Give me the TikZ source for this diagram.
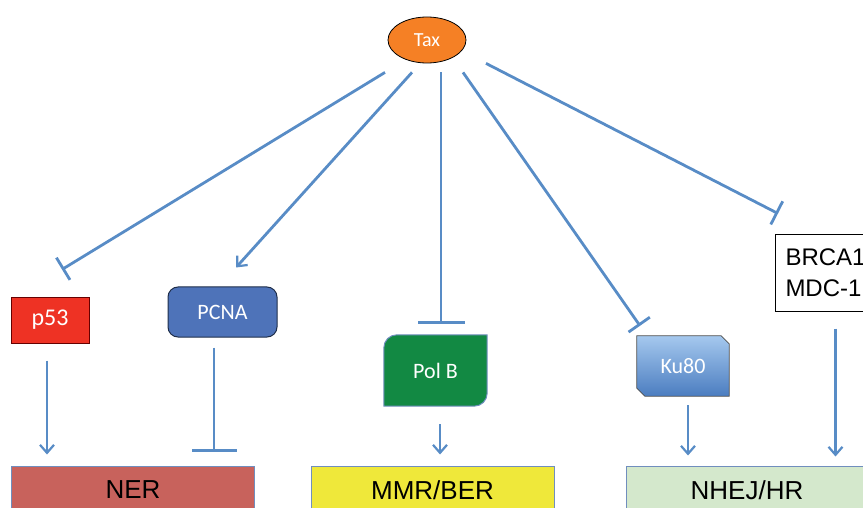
\documentclass[tikz,border=0pt]{standalone}
\usepackage{fontspec}
\setmainfont{Carlito}
\newfontfamily\arialfont{Liberation Sans}
\usepackage{tikz}
\usetikzlibrary{calc,arrows.meta,positioning,shapes.geometric,backgrounds}

\definecolor{linkblue}{RGB}{88,140,198}
\definecolor{taxorange}{RGB}{245,128,37}
\definecolor{pred}{RGB}{238,50,36}
\definecolor{pcnablue}{RGB}{78,115,185}
\definecolor{polgreen}{RGB}{18,137,67}
\definecolor{kulight}{RGB}{165,200,238}
\definecolor{kudark}{RGB}{75,125,192}
\definecolor{nerred}{RGB}{200,98,92}
\definecolor{mmryellow}{RGB}{239,232,58}
\definecolor{nhejgreen}{RGB}{212,232,204}
\definecolor{boxline}{RGB}{112,142,190}

\begin{document}
\begin{tikzpicture}[x=1pt,y=1pt,inner sep=0pt]
      % Styles
      \tikzset{link/.style={linkblue,line width=2.8pt},
               act/.style={link,-{Straight Barb[length=8pt,width=14pt,line width=2.2pt]}},
               inh/.style={link,-{Bar[width=#1,line width=2.8pt]}},
               inh/.default=26pt,
               protein/.style={minimum width=#1,text=white,font=\fontsize{22}{24}\selectfont},
               pathway/.style={draw=boxline,line width=1pt,minimum width=243pt,minimum height=48pt,
                               font=\arialfont\fontsize{26}{28}\selectfont}}

      \useasboundingbox (0,0) rectangle (863,507);
      \clip (0,0) rectangle (863,507);

      % top regulator
      \node[ellipse,draw=black,line width=0.8pt,fill=taxorange,minimum width=78pt,minimum height=46pt,
            text=white,font=\fontsize{20}{22}\selectfont] (tax) at (427,467) {Tax};

      % targets of Tax
      \node[protein=78pt,minimum height=46pt,fill=pred,draw=red!40!black,line width=1pt,
            font=\fontsize{24}{26}\selectfont] (p53) at (50,187) {p53};
      \node[protein=109pt,minimum height=50pt,fill=pcnablue,draw=pcnablue!40!black,line width=1pt,
            rounded corners=10pt] (pcna) at (222.5,195) {PCNA};
      \node[protein=103pt,minimum height=71pt] (polb) at (435.5,136.5) {Pol B};
      \node[protein=92pt,minimum height=60pt] (ku80) at (683,141) {Ku80};
      \node[draw=black,line width=1pt,fill=white,anchor=west,text width=86pt,inner xsep=10pt,
            minimum height=76pt,align=left,font=\arialfont\fontsize{24}{31}\selectfont]
            (brca) at (775,234) {BRCA1\\MDC-1};

      % odd shaped boxes behind their text
      \begin{scope}[on background layer]
        \def\rr{13}
        \draw[fill=polgreen,draw=boxline,line width=1pt] (polb.south west)
          -- ($(polb.north west)+(0,-\rr)$) arc[start angle=180,end angle=90,radius=\rr]
          -- (polb.north east) -- ($(polb.south east)+(0,\rr)$)
          arc[start angle=0,end angle=-90,radius=\rr] -- cycle;
        \def\ss{8}
        \shade[top color=kulight,bottom color=kudark,draw=black!70,line width=0.8pt]
          ($(ku80.south west)+(\ss,0)$) -- ($(ku80.south west)+(0,\ss)$) -- (ku80.north west)
          -- ($(ku80.north east)+(-\ss,0)$) -- ($(ku80.north east)+(0,-\ss)$)
          -- (ku80.south east) -- cycle;
      \end{scope}

      % repair pathways
      \node[pathway,fill=nerred] (ner) at (133,17) {NER};
      \node[pathway,fill=mmryellow] (mmr) at (432.5,17) {MMR/BER};
      \node[pathway,fill=nhejgreen,minimum width=242pt] (nhej) at (747,17) {NHEJ/HR};

      % Tax to targets
      \draw[inh] ($(tax.south)+(-42,-9)$) -- ($(p53.north)+(12,27)$);
      \draw[act] ($(tax.south)+(-15,-9)$) -- ($(pcna.north)+(13.5,19)$);
      \draw[inh=47pt] ($(tax.south)+(14,-9)$) -- ($(polb.north)+(5.5,11)$);
      \draw[inh] ($(tax.south)+(36,-9)$) -- ($(ku80.north)+(-43,10)$);
      \draw[inh] ($(tax.south)+(59,0)$) -- ($(brca.north west)+(3,21)$);

      % targets to pathways
      \draw[act] ($(p53.south)+(-3,-17)$) -- ($(ner.north -| p53.south)+(-3,11)$);
      \draw[inh=45pt] ($(pcna.south)+(-8.5,-10)$) -- ($(ner.north -| pcna.south)+(-8.5,14)$);
      \draw[act] ($(polb.south)+(4.5,-18)$) -- ($(mmr.north -| polb.south)+(4.5,11)$);
      \draw[act] ($(ku80.south)+(5,-9)$) -- ($(nhej.north -| ku80.south)+(5,10)$);
      \draw[act] ($(brca.south)+(7,-17)$) -- ($(nhej.north -| brca.south)+(7,9)$);
    \end{tikzpicture}
\end{document}
